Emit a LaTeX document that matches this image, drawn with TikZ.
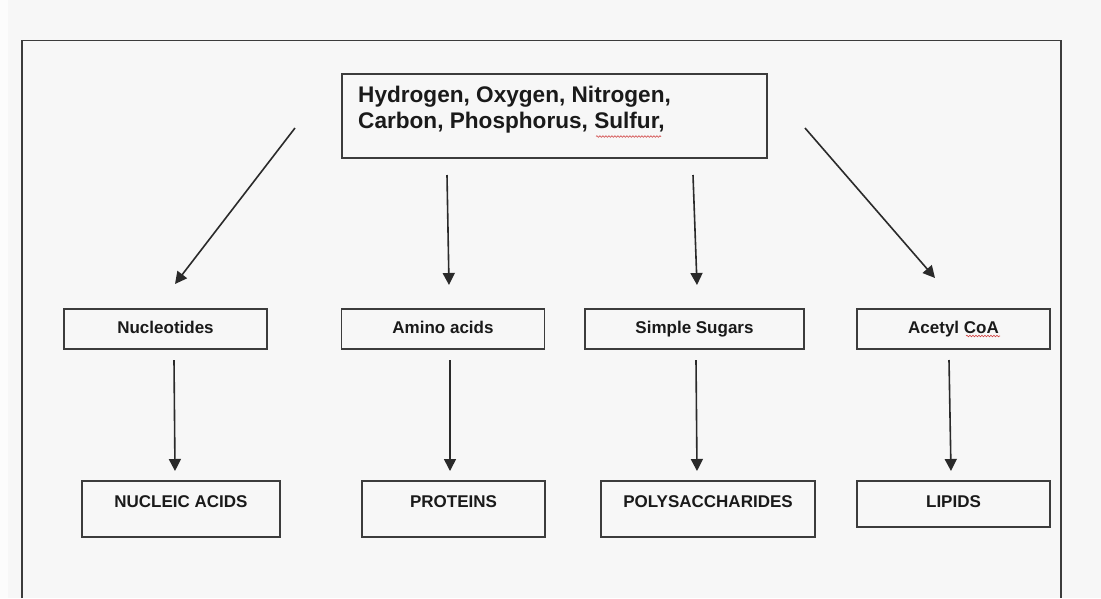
\documentclass[tikz,border=0pt]{standalone}
\usepackage{fontspec}
\setmainfont{Liberation Sans}
\usetikzlibrary{arrows.meta,decorations.pathmorphing}
\definecolor{bg}{HTML}{F7F7F7}
\definecolor{edge}{HTML}{3C3C3C}
\definecolor{ink}{HTML}{1A1A1A}
\definecolor{arr}{HTML}{2A2A2A}
\definecolor{spell}{HTML}{D04040}
\tikzset{
  box/.style={draw=edge, line width=1.7pt, rectangle, inner sep=0pt},
  lbl/.style={font=\bfseries\fontsize{17}{20}\selectfont, text=ink, inner sep=0pt, anchor=base},
  toptxt/.style={font=\bfseries\fontsize{22.6}{26.5}\selectfont, text=ink, inner sep=0pt, anchor=base west},
  link/.style={draw=arr, line width=1.6pt, -{Triangle[length=12pt,width=12pt]}},
  squiggle/.style={draw=spell, line width=0.6pt, decorate, decoration={snake, segment length=3pt, amplitude=0.8pt}}
}
\begin{document}
\begin{tikzpicture}[x=1pt,y=-1pt]
\useasboundingbox (0,0) rectangle (1101,598);
\fill[bg] (0,0) rectangle (1101,598);
\fill[white!60!bg] (0,0) rectangle (8,598);
% outer frame (open at the bottom)
\draw[edge, line width=1.8pt] (22,598) -- (22,40.5) -- (1061,40.5) -- (1061,598);

% top box
\node[box, minimum width=425pt, minimum height=84pt] (top) at (554.5,116) {};
\node[toptxt] (toptextA) at (358,102) {Hydrogen, Oxygen, Nitrogen,};
\node[toptxt] (toptextB) at (358,128.5) {Carbon, Phosphorus, Sulfur,};

% middle boxes
\node[box, minimum width=203pt, minimum height=40pt] (nuc) at (165.5,329) {};
\node[box, minimum width=203pt, minimum height=40pt] (ami) at (443,329) {};
\node[box, minimum width=219pt, minimum height=40pt] (sug) at (694.5,329) {};
\node[box, minimum width=193pt, minimum height=40pt] (ace) at (953.5,329) {};
\node[lbl] (nucT) at (165.5,333) {Nucleotides};
\node[lbl] (amiT) at (443,333) {Amino acids};
\node[lbl] (sugT) at (694.5,333) {Simple Sugars};
\node[lbl] (aceT) at (953.5,333) {Acetyl CoA};

% bottom boxes
\node[box, minimum width=198pt, minimum height=56pt] (nac) at (181,509) {};
\node[box, minimum width=183pt, minimum height=56pt] (pro) at (453.5,509) {};
\node[box, minimum width=214pt, minimum height=56pt] (pol) at (708,509) {};
\node[box, minimum width=193pt, minimum height=46pt] (lip) at (953.5,504) {};
\node[lbl] (nacT) at (181,507) {NUCLEIC ACIDS};
\node[lbl] (proT) at (453.5,507) {PROTEINS};
\node[lbl] (polT) at (708,507) {POLYSACCHARIDES};
\node[lbl] (lipT) at (953.5,507) {LIPIDS};

% spell-check marks
\draw[squiggle] (596,136.5) -- (661,136.5);
\draw[squiggle] (966,336) -- (1000,336);

% connector end points
\coordinate (s1) at (295,128); \coordinate (e1) at (175,284);
\coordinate (s2) at (447,175); \coordinate (e2) at (449,285);
\coordinate (s3) at (693,175); \coordinate (e3) at (697,285);
\coordinate (s4) at (805,128); \coordinate (e4) at (935,278);
\coordinate (s5) at (174,360); \coordinate (e5) at (175,471);
\coordinate (s6) at (450,360); \coordinate (e6) at (450,471);
\coordinate (s7) at (696,360); \coordinate (e7) at (697,471);
\coordinate (s8) at (949,360); \coordinate (e8) at (951,471);

\draw[link] (s1) -- (e1);
\draw[link] (s2) -- (e2);
\draw[link] (s3) -- (e3);
\draw[link] (s4) -- (e4);
\draw[link] (s5) -- (e5);
\draw[link] (s6) -- (e6);
\draw[link] (s7) -- (e7);
\draw[link] (s8) -- (e8);
\end{tikzpicture}
\end{document}
